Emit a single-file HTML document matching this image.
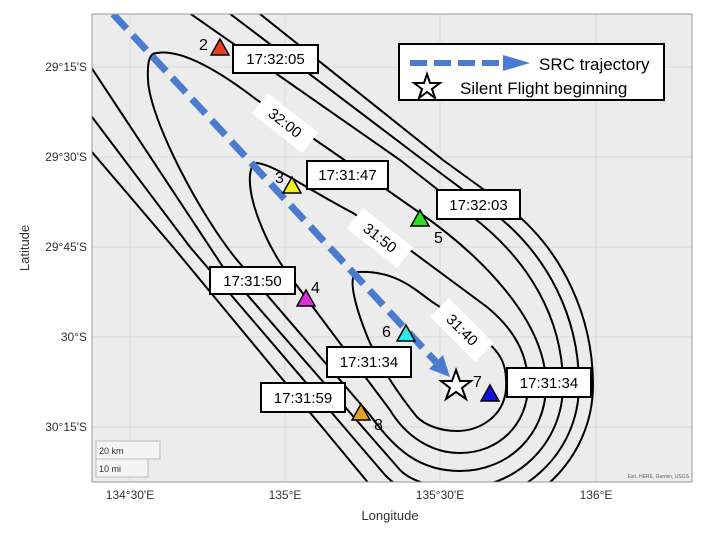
<!DOCTYPE html>
<html><head><meta charset="utf-8"><style>
html,body{margin:0;padding:0;background:#fff;}
svg{display:block;font-family:"Liberation Sans",Arial,sans-serif;}
</style></head><body>
<svg width="716" height="538" viewBox="0 0 716 538" xmlns="http://www.w3.org/2000/svg">
<defs><clipPath id="m"><rect x="92" y="14" width="600" height="468"/></clipPath></defs>
<rect x="92" y="14" width="600" height="468" fill="#ececec"/>
<g stroke="#dadada" stroke-width="1">
<line x1="130" y1="14" x2="130" y2="482"/><line x1="285" y1="14" x2="285" y2="482"/>
<line x1="440" y1="14" x2="440" y2="482"/><line x1="596" y1="14" x2="596" y2="482"/>
<line x1="92" y1="67" x2="692" y2="67"/><line x1="92" y1="157" x2="692" y2="157"/>
<line x1="92" y1="247" x2="692" y2="247"/><line x1="92" y1="337" x2="692" y2="337"/>
<line x1="92" y1="427" x2="692" y2="427"/>
</g>
<g clip-path="url(#m)" fill="none" stroke="#000" stroke-width="2">
<path d="M358,272 C400,270 420,295 437,305 L488,343 C505,357 507,372 506,390 C503,418 478,431 457,431 C440,431 425,425 417,417 C395,390 380,365 370,343 C358,315 345,275 358,272 Z"/>
<path d="M257,163 C275,165 300,185 353,213 L410,250 L487,307 C515,330 528,355 528,385 C528,425 498,453 460,453 C430,453 405,435 390,410 L283,267 C265,240 248,200 250,175 C251,167 253,163 257,163 Z"/>
<path d="M157,53 C175,50 205,60 257,100 L330,150 L420,213 C480,255 546,320 546,385 C546,435 508,471 460,471 C420,471 395,450 370,415 L237,260 C200,215 150,120 148,80 C147,60 150,53 157,53 Z"/>
<path d="M185,10 L400,160 L470,215 C530,260 563,320 563,385 C563,445 515,488 460,488 C430,488 410,480 400,470 L223,267 L85,58"/>
<path d="M225,10 L423,160 L490,210 C550,255 579,320 579,385 C579,455 520,504 460,504 C420,504 400,490 385,475 L190,247 L80,101"/>
<path d="M255,10 L443,160 L505,205 C565,250 593,320 593,385 C593,460 530,518 460,518 C420,518 390,505 370,485 L173,247 L80,138"/>
</g>
<g font-size="15" text-anchor="middle">
<g transform="translate(285,123) rotate(38)"><rect x="-32" y="-13" width="64" height="26" fill="#fff"/><text y="5">32:00</text></g>
<g transform="translate(380,238) rotate(38)"><rect x="-32" y="-13" width="64" height="26" fill="#fff"/><text y="5">31:50</text></g>
<g transform="translate(462,330) rotate(45)"><rect x="-32" y="-13" width="64" height="26" fill="#fff"/><text y="5">31:40</text></g>
</g>
<g clip-path="url(#m)">
<line x1="113" y1="14" x2="436" y2="362" stroke="#4a7bd0" stroke-width="7" stroke-dasharray="20 9"/>
<polygon points="443,355 429,369 450,377" fill="#4a7bd0"/>
</g>
<g stroke="#000" stroke-width="1.5">
<polygon points="220,39 211,55 229,55" fill="#e8401c"/>
<polygon points="292,177 283,193 301,193" fill="#f0f020"/>
<polygon points="420,210 411,226 429,226" fill="#30dd20"/>
<polygon points="306,290 297,306 315,306" fill="#e030e0"/>
<polygon points="406,325 397,341 415,341" fill="#30e8f0"/>
<polygon points="490,385 481,401 499,401" fill="#1010e0"/>
<polygon points="361,404 352,420 370,420" fill="#e8a020"/>
</g>
<polygon points="456,370 460,381 471,381 462,388 466,399 456,392 446,399 450,388 441,381 452,381" fill="#fff" stroke="#000" stroke-width="2"/>
<g font-size="16">
<text x="199" y="50">2</text><text x="275" y="183">3</text><text x="434" y="243">5</text>
<text x="311" y="293">4</text><text x="382" y="337">6</text><text x="473" y="387">7</text><text x="374" y="430">8</text>
</g>
<g font-size="15" text-anchor="middle">
<rect x="233" y="45" width="85" height="28" fill="#fff" stroke="#000" stroke-width="2"/><text x="275.5" y="64">17:32:05</text>
<rect x="307" y="161" width="81" height="28" fill="#fff" stroke="#000" stroke-width="2"/><text x="347.5" y="180">17:31:47</text>
<rect x="437" y="190" width="83" height="29" fill="#fff" stroke="#000" stroke-width="2"/><text x="478.5" y="210">17:32:03</text>
<rect x="210" y="267" width="85" height="27" fill="#fff" stroke="#000" stroke-width="2"/><text x="252.5" y="286">17:31:50</text>
<rect x="327" y="347" width="84" height="30" fill="#fff" stroke="#000" stroke-width="2"/><text x="369" y="367">17:31:34</text>
<rect x="507" y="368" width="84" height="29" fill="#fff" stroke="#000" stroke-width="2"/><text x="549" y="388">17:31:34</text>
<rect x="261" y="383" width="84" height="29" fill="#fff" stroke="#000" stroke-width="2"/><text x="303" y="403">17:31:59</text>
</g>
<rect x="399" y="44" width="265" height="56" fill="#fff" stroke="#000" stroke-width="2"/>
<line x1="410" y1="63" x2="505" y2="63" stroke="#4a7bd0" stroke-width="6" stroke-dasharray="17 7"/>
<polygon points="503,55 503,71 530,63" fill="#4a7bd0"/>
<polygon points="427,74 430,83 440,83 432,89 435,98 427,92 419,98 422,89 414,83 424,83" fill="#fff" stroke="#000" stroke-width="2"/>
<text x="539" y="70" font-size="17">SRC trajectory</text>
<text x="460" y="94" font-size="17">Silent Flight beginning</text>
<rect x="96" y="441" width="64" height="18" fill="#f4f4f4" stroke="#bbb"/>
<rect x="96" y="459" width="52" height="18" fill="#f4f4f4" stroke="#bbb"/>
<text x="99" y="454" font-size="9" fill="#333">20 km</text>
<text x="99" y="472" font-size="9" fill="#333">10 mi</text>
<text x="689" y="478" font-size="5" fill="#666" text-anchor="end">Esri, HERE, Garmin, USGS</text>
<rect x="92" y="14" width="600" height="468" fill="none" stroke="#999" stroke-width="1"/>
<g font-size="12" fill="#333" text-anchor="middle">
<text x="130" y="499">134°30'E</text><text x="285" y="499">135°E</text>
<text x="440" y="499">135°30'E</text><text x="596" y="499">136°E</text>
<text x="390" y="520" font-size="13">Longitude</text>
</g>
<g font-size="12" fill="#333" text-anchor="end">
<text x="87" y="71">29°15'S</text><text x="87" y="161">29°30'S</text>
<text x="87" y="251">29°45'S</text><text x="87" y="341">30°S</text><text x="87" y="431">30°15'S</text>
</g>
<text transform="translate(29,248) rotate(-90)" font-size="13" fill="#333" text-anchor="middle">Latitude</text>
</svg>
</body></html>
